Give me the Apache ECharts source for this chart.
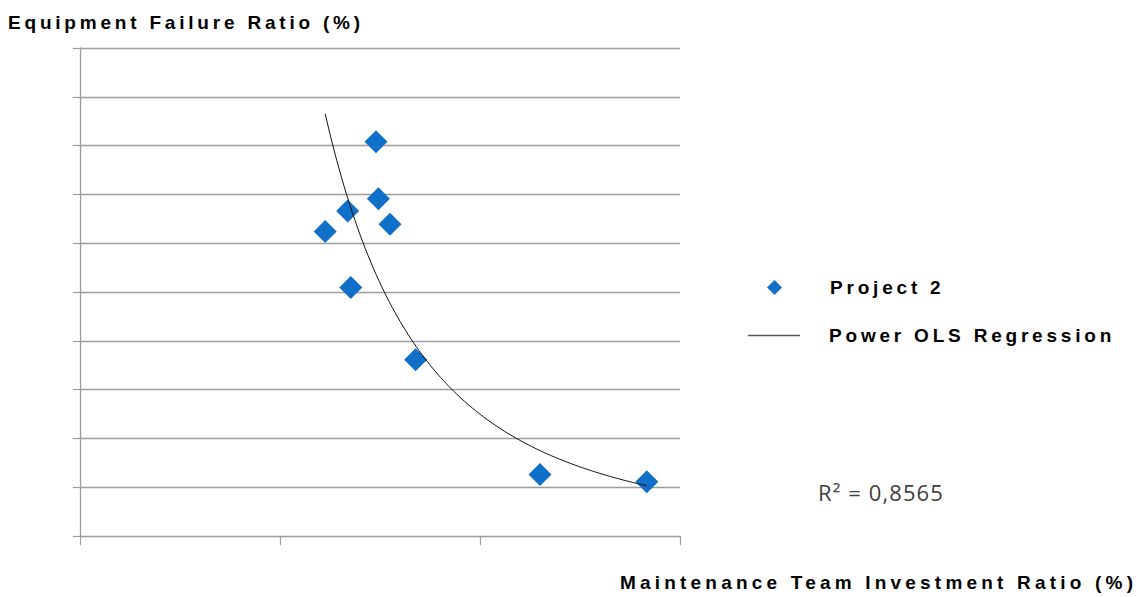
<!DOCTYPE html>
<html>
<head>
<meta charset="utf-8">
<script src="https://cdn.jsdelivr.net/npm/echarts@6/dist/echarts.min.js"></script>
<style>
  html, body { margin: 0; padding: 0; background: #fff; }
  #chart { width: 1137px; height: 597px; }
  /* wide tracking on the bold labels, lighter tracking on the R² note */
  #chart text { letter-spacing: 3.8px; }
  #chart text[fill="#010101"], #chart text[style*="#010101"] { letter-spacing: 4.2px; }
  #chart text[style*="Open Sans"], #chart text[font-family*="Open Sans"] { letter-spacing: 1.1px; }
</style>
</head>
<body>
<div id="chart"></div>
<script>
// Investment ratio (%) vs failure ratio (%) for each project site
const investment = [7.40, 7.46, 6.69, 6.13, 7.75, 6.77, 8.39, 11.50, 14.17];
const failure    = [8.08, 6.91, 6.66, 6.24, 6.39, 5.09, 3.61, 1.26, 1.11];

const xTicks = { min: 0, max: 15, interval: 5 };
const yTicks = { min: 0, max: 10, interval: 1 };

const seriesName = 'Project 2';
const fitName = 'Power OLS Regression';
const r2Text = 'R\u00B2 = 0,8565';

// Power-law fit y = a * x^b by ordinary least squares on ln(x), ln(y)
function powerFit(xs, ys) {
  const lx = xs.map(Math.log), ly = ys.map(Math.log);
  const n = xs.length;
  const mx = lx.reduce((s, v) => s + v, 0) / n;
  const my = ly.reduce((s, v) => s + v, 0) / n;
  let sxy = 0, sxx = 0;
  for (let i = 0; i < n; i++) {
    sxy += (lx[i] - mx) * (ly[i] - my);
    sxx += (lx[i] - mx) * (lx[i] - mx);
  }
  const b = sxy / sxx;
  const a = Math.exp(my - b * mx);
  return { a, b };
}

const fit = powerFit(investment, failure);
const xLo = Math.min(...investment), xHi = Math.max(...investment);
const fitLine = [];
const steps = 120;
for (let i = 0; i <= steps; i++) {
  const x = xLo + (xHi - xLo) * i / steps;
  fitLine.push([x, fit.a * Math.pow(x, fit.b)]);
}

const points = investment.map((x, i) => [x, failure[i]]);

const chart = echarts.init(document.getElementById('chart'), null, { renderer: 'svg' });

const gray = '#9c9c9c';
const blue = '#1070c8';
const boldText = {
  fontFamily: 'Liberation Sans',
  fontWeight: 'bold',
  fontSize: 19,
  color: '#000'
};

chart.setOption({
  animation: false,
  backgroundColor: '#fff',
  grid: { left: 80, right: 457, top: 48, bottom: 61, containLabel: false },
  xAxis: {
    type: 'value',
    min: xTicks.min, max: xTicks.max, interval: xTicks.interval,
    axisLine: { show: true, lineStyle: { color: gray, width: 1.2 } },
    axisTick: { show: true, length: 9, lineStyle: { color: gray, width: 1.2 } },
    axisLabel: { show: false },
    splitLine: { show: false }
  },
  yAxis: {
    type: 'value',
    min: yTicks.min, max: yTicks.max, interval: yTicks.interval,
    axisLine: { show: true, lineStyle: { color: gray, width: 1.3 } },
    axisTick: { show: true, length: 7, lineStyle: { color: gray, width: 1.2 } },
    axisLabel: { show: false },
    splitLine: { show: true, lineStyle: { color: gray, width: 1.3 } }
  },
  legend: [
    {
      orient: 'vertical',
      left: 762,
      top: 273,
      itemWidth: 15,
      itemHeight: 15,
      selectedMode: false,
      textStyle: Object.assign({ padding: [0, 0, 0, 43] }, boldText),
      data: [{ name: seriesName, icon: 'diamond', itemStyle: { color: blue, opacity: 1 } }]
    },
    {
      orient: 'vertical',
      left: 743,
      top: 321,
      itemWidth: 52,
      itemHeight: 1.5,
      selectedMode: false,
      textStyle: Object.assign({ padding: [0, 0, 0, 24] }, boldText),
      data: [{ name: fitName, icon: 'rect', itemStyle: { color: '#555', opacity: 1 } }]
    }
  ],
  graphic: [
    {
      type: 'text', left: 8, top: 13,
      style: { text: 'Equipment Failure Ratio (%)', font: 'bold 19px "Liberation Sans"', fill: '#000' }
    },
    {
      type: 'text', left: 620, top: 573,
      style: { text: 'Maintenance Team Investment Ratio (%)', font: 'bold 19px "Liberation Sans"', fill: '#010101' }
    },
    {
      type: 'text', left: 818, top: 481,
      style: { text: r2Text, font: '22px "Open Sans"', fill: '#404040' }
    }
  ],
  series: [
    {
      name: seriesName,
      type: 'scatter',
      symbol: 'diamond',
      symbolSize: 23,
      itemStyle: { color: blue, opacity: 1 },
      data: points,
      z: 2
    },
    {
      name: fitName,
      type: 'line',
      symbol: 'none',
      smooth: false,
      lineStyle: { color: '#111', width: 1 },
      data: fitLine,
      z: 3
    }
  ]
});
</script>
</body>
</html>
